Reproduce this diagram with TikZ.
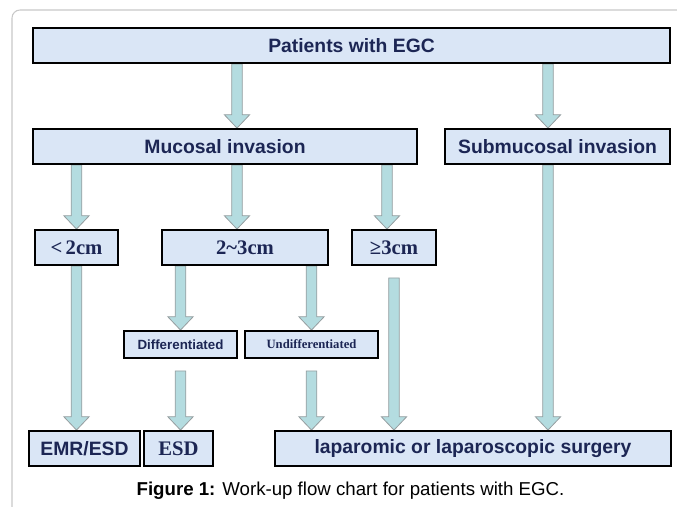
\documentclass[tikz,border=0pt]{standalone}
\usepackage{fontspec}
\setmainfont{Liberation Sans}
\newfontfamily\timesfont{Liberation Serif}
\usetikzlibrary{calc,backgrounds}

\definecolor{boxfill}{RGB}{218,230,246}
\definecolor{boxtext}{RGB}{28,38,84}
\definecolor{arrowfill}{RGB}{180,220,224}
\definecolor{arrowline}{RGB}{150,158,160}
\definecolor{framegray}{RGB}{200,200,200}

\tikzset{
  stepbox/.style={draw=black, line width=1.4pt, fill=boxfill, text=boxtext, inner sep=0pt,
    minimum height=26.25pt, font=\bfseries\fontsize{14.5}{16}\selectfont},
  serifbox/.style={stepbox, font=\timesfont\bfseries\fontsize{15.5}{17}\selectfont},
  smallbox/.style={stepbox, minimum height=20.25pt, font=\bfseries\fontsize{10}{12}\selectfont},
  smallserif/.style={smallbox, font=\timesfont\bfseries\fontsize{9.5}{11}\selectfont},
  fatarrow/.style={draw=arrowline, fill=arrowfill, line width=0.6pt}
}

\newcommand\fatarrow[2]{%
  \draw[fatarrow] let \p1=(#1), \p2=(#2) in
    (\x1-4pt,\y1) -- (\x1-4pt,\y2+10pt) -- (\x1-9.5pt,\y2+10pt) -- (\x1,\y2)
    -- (\x1+9.5pt,\y2+10pt) -- (\x1+4pt,\y2+10pt) -- (\x1+4pt,\y1) -- cycle;}

\begin{document}
\begin{tikzpicture}[x=0.75pt,y=-0.75pt]
  \useasboundingbox (0,0) rectangle (677,506);
  \clip (0,0) rectangle (677,506);
  \draw[framegray, line width=0.8pt, rounded corners=6pt] (12,520) -- (12,10) -- (700,10);

  \node[stepbox, minimum width=477.75pt] (pat) at (351.5,45.5) {Patients with EGC};
  \node[stepbox, minimum width=288pt] (muc) at (225,146.5) {Mucosal invasion};
  \node[stepbox, minimum width=168.75pt] (sub) at (557.5,146.5) {Submucosal invasion};
  \node[serifbox, minimum width=62.25pt] (lt) at (76.5,247.5) {<\,2cm};
  \node[serifbox, minimum width=124.5pt] (mid) at (245,247.5) {2\textasciitilde3cm};
  \node[serifbox, minimum width=63pt] (ge) at (394,247.5) {≥3cm};
  \node[smallbox, minimum width=84.75pt] (dif) at (180.5,344.5) {Differentiated};
  \node[smallserif, minimum width=99.75pt] (und) at (311.5,344.5) {Undifferentiated};
  \node[stepbox, minimum width=83.25pt] (emr) at (84.5,448.5) {EMR/ESD};
  \node[serifbox, minimum width=51.75pt] (esd) at (178.5,448.5) {ESD};
  \node[stepbox, minimum width=297pt] (lap) at (473,448.5) {laparomic or laparoscopic surgery};

  \node[text=black, font=\fontsize{14}{16}\selectfont] (cap) at (350.5,491)
    {\textbf{Figure 1:} Work-up flow chart for patients with EGC.};

  \coordinate (kA) at (237,0);
  \coordinate (kB) at (548,0);
  \coordinate (kD) at (387,0);

  \begin{scope}[on background layer]
    \fatarrow{pat.south -| kA}{muc.north -| kA}
    \fatarrow{pat.south -| kB}{sub.north -| kB}
    \fatarrow{muc.south -| lt.north}{lt.north}
    \fatarrow{muc.south -| kA}{mid.north -| kA}
    \fatarrow{muc.south -| kD}{ge.north -| kD}
    \fatarrow{mid.south -| dif.north}{dif.north}
    \fatarrow{mid.south -| und.north}{und.north}
    \fatarrow{lt.south}{emr.north -| lt.south}
    \fatarrow{[yshift=-9pt]dif.south}{esd.north -| dif.south}
    \fatarrow{[yshift=-9pt]und.south}{lap.north -| und.south}
    \fatarrow{[yshift=-9pt]ge.south}{lap.north -| ge.south}
    \fatarrow{sub.south -| kB}{lap.north -| kB}
  \end{scope}
\end{tikzpicture}
\end{document}
